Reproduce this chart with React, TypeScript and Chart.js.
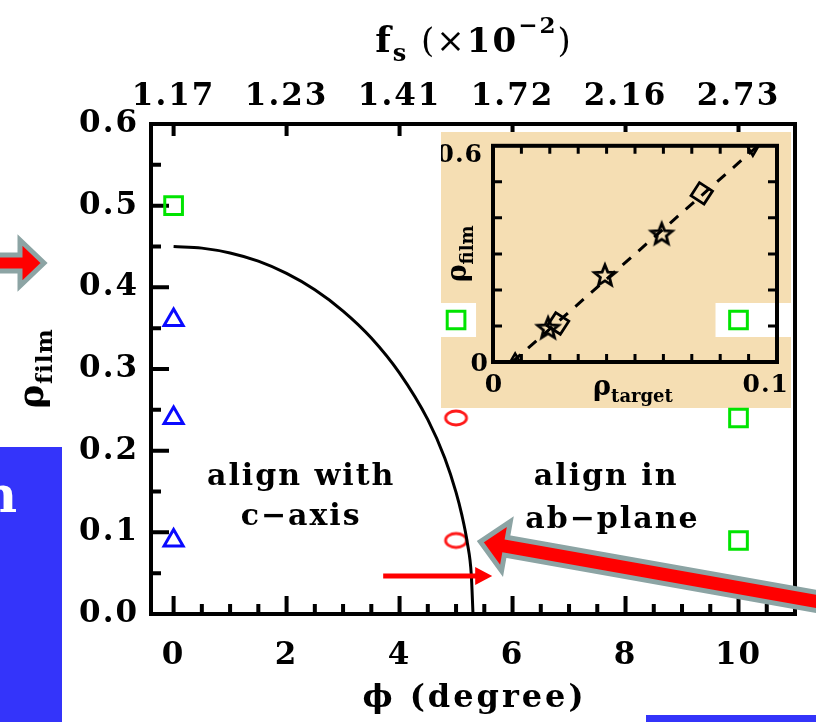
import React, { useEffect, useRef } from 'react';
import { Chart, registerables } from 'chart.js';

Chart.register(...registerables);

const SERIF = '"DejaVu Serif", serif';

// ---- main panel: film ρ against misorientation φ ----
const phiTicks = [0, 2, 4, 6, 8, 10];
const fsLabels = ['1.17', '1.23', '1.41', '1.72', '2.16', '2.73'];
const rhoTicks = [0, 0.1, 0.2, 0.3, 0.4, 0.5, 0.6];

const squarePhi = [0, 5, 10, 10, 10];
const squareRho = [0.5, 0.36, 0.36, 0.24, 0.09];
const trianglePhi = [0, 0, 0];
const triangleRho = [0.36, 0.24, 0.09];
const circlePhi = [5, 5];
const circleRho = [0.24, 0.09];

// boundary between c-axis and ab-plane alignment
const boundaryPhi = [0, 0.5, 1, 1.5, 2, 2.5, 3, 3.5, 4, 4.5, 4.8, 5, 5.1, 5.2, 5.27, 5.3];
const boundaryRho = [0.45, 0.448, 0.442, 0.432, 0.417, 0.397, 0.371, 0.338, 0.295, 0.238, 0.191, 0.149, 0.122, 0.087, 0.048, 0];

// ---- inset: film ρ against target ρ ----
const targetTickLabels = ['0', '0.1'];
const filmTickLabels = ['0', '0.6'];
const fitTarget = [0.0068, 0.0933];
const fitFilm = [0, 0.6];
const starTarget = [0.0194, 0.0394, 0.0594];
const starFilm = [0.0925, 0.239, 0.354];
const diamondTarget = [0.0229, 0.0735];
const diamondFilm = [0.107, 0.468];
const triTarget = [0.0078, 0.0915];
const triFilm = [0.004, 0.592];

const INSET = { x: 441, y: 132, w: 350, h: 276 };

const GREEN = '#00e400';
const BLUE = '#0a0aff';
const RED = '#ff1a1a';
const WHEAT = '#f5deb3';
const ARROW_RED = '#ff0000';
const ARROW_GREY = '#8ca4a4';
const BOX_BLUE = '#3434fa';

type Run = { t: string; size: number; dy?: number; weight?: string };

const pts = (xs: number[], ys: number[]) => xs.map((x, i) => ({ x, y: ys[i] }));

function runFont(r: Run) {
  return `${r.weight ?? 'bold'} ${r.size}px ${SERIF}`;
}

// draws a row of differently sized text pieces centred on cx
function drawRuns(ctx: any, runs: Run[], cx: number, baseline: number, spacing: number) {
  ctx.save();
  ctx.letterSpacing = `${spacing}px`;
  let total = 0;
  const widths = runs.map((r) => {
    ctx.font = runFont(r);
    const w = ctx.measureText(r.t).width;
    total += w;
    return w;
  });
  total -= spacing;
  let x = cx - total / 2;
  ctx.textAlign = 'left';
  ctx.textBaseline = 'alphabetic';
  ctx.fillStyle = '#000';
  runs.forEach((r, i) => {
    ctx.font = runFont(r);
    ctx.fillText(r.t, x, baseline + (r.dy ?? 0));
    x += widths[i];
  });
  ctx.restore();
}

function arrowPath(ctx: any, tail: { x: number; y: number }, tip: { x: number; y: number }, shaftHalf: number, headHalf: number, headLen: number) {
  const dx = tip.x - tail.x;
  const dy = tip.y - tail.y;
  const L = Math.hypot(dx, dy);
  const ux = dx / L;
  const uy = dy / L;
  const nx = -uy;
  const ny = ux;
  const bx = tip.x - ux * headLen;
  const by = tip.y - uy * headLen;
  ctx.beginPath();
  ctx.moveTo(tail.x + nx * shaftHalf, tail.y + ny * shaftHalf);
  ctx.lineTo(bx + nx * shaftHalf, by + ny * shaftHalf);
  ctx.lineTo(bx + nx * headHalf, by + ny * headHalf);
  ctx.lineTo(tip.x, tip.y);
  ctx.lineTo(bx - nx * headHalf, by - ny * headHalf);
  ctx.lineTo(bx - nx * shaftHalf, by - ny * shaftHalf);
  ctx.lineTo(tail.x - nx * shaftHalf, tail.y - ny * shaftHalf);
  ctx.closePath();
}

function makeStar(outer: number, inner: number, lw: number, color: string) {
  const s = Math.ceil(2 * outer + 2 * lw + 4);
  const c = document.createElement('canvas');
  c.width = s;
  c.height = s;
  const g = c.getContext('2d')!;
  g.translate(s / 2, s / 2);
  g.beginPath();
  for (let k = 0; k < 10; k++) {
    const r = k % 2 ? inner : outer;
    const a = -Math.PI / 2 + (k * Math.PI) / 5;
    g.lineTo(r * Math.cos(a), r * Math.sin(a));
  }
  g.closePath();
  g.lineWidth = lw;
  g.strokeStyle = color;
  g.stroke();
  return c;
}

function makeEllipse(rx: number, ry: number, lw: number, color: string) {
  const c = document.createElement('canvas');
  c.width = Math.ceil(2 * rx + 2 * lw + 4);
  c.height = Math.ceil(2 * ry + 2 * lw + 4);
  const g = c.getContext('2d')!;
  g.beginPath();
  g.ellipse(c.width / 2, c.height / 2, rx, ry, 0, 0, Math.PI * 2);
  g.lineWidth = lw;
  g.strokeStyle = color;
  g.stroke();
  return c;
}

const mainDecor = {
  id: 'mainDecor',
  beforeDraw(chart: any) {
    chart.ctx.letterSpacing = '2px';
  },
  beforeDatasetsDraw(chart: any) {
    const { ctx, chartArea: a, scales } = chart;
    const x = scales.x;
    const y = scales.y;
    ctx.save();
    ctx.letterSpacing = '0px';
    ctx.strokeStyle = '#000';
    ctx.lineWidth = 4;
    ctx.beginPath();
    // bottom ticks every 0.5 degree, long ones at the labelled values
    for (let k = 0; k <= 21; k++) {
      const px = x.getPixelForValue(k * 0.5);
      const len = k % 4 === 0 ? 18 : 10;
      ctx.moveTo(px, a.bottom);
      ctx.lineTo(px, a.bottom - len);
    }
    // left ticks every 0.05
    for (let k = 1; k <= 11; k++) {
      const py = y.getPixelForValue(k * 0.05);
      const len = k % 2 === 0 ? 18 : 10;
      ctx.moveTo(a.left, py);
      ctx.lineTo(a.left + len, py);
    }
    // top ticks at the f_s labels
    phiTicks.forEach((v) => {
      const px = x.getPixelForValue(v);
      ctx.moveTo(px, a.top);
      ctx.lineTo(px, a.top + 12);
    });
    ctx.stroke();

    // backdrop of the inset
    ctx.fillStyle = WHEAT;
    ctx.fillRect(INSET.x, INSET.y, INSET.w, INSET.h);
    // clearings around the squares that sit behind the inset
    const py36 = y.getPixelForValue(0.36);
    const px5 = x.getPixelForValue(5);
    const px10 = x.getPixelForValue(10);
    ctx.fillStyle = '#ffffff';
    ctx.fillRect(px5 - 16, py36 - 17, 36, 34);
    ctx.fillRect(px10 - 23, py36 - 17, INSET.x + INSET.w - (px10 - 23), 34);

    ctx.lineWidth = 4;
    ctx.strokeRect(a.left, a.top, a.right - a.left, a.bottom - a.top);
    ctx.restore();
  },
  afterDraw(chart: any) {
    const { ctx, chartArea: a, scales } = chart;
    const x = scales.x;
    const y = scales.y;
    ctx.letterSpacing = '0px';
    const cx = (a.left + a.right) / 2;

    // axis titles
    drawRuns(ctx, [
      { t: 'f', size: 36 },
      { t: 's', size: 24, dy: 9 },
      { t: ' (×', size: 34, weight: 'normal' },
      { t: '10', size: 34 },
      { t: '−2', size: 23, dy: -19 },
      { t: ')', size: 34, weight: 'normal' },
    ], cx, a.top - 72, 2);
    drawRuns(ctx, [{ t: 'ϕ (degree)', size: 32 }], cx, a.bottom + 93, 3);
    ctx.save();
    ctx.translate(a.left - 118, (a.top + a.bottom) / 2);
    ctx.rotate(-Math.PI / 2);
    drawRuns(ctx, [{ t: 'ρ', size: 36 }, { t: 'film', size: 23, dy: 9 }], 0, 10, 1);
    ctx.restore();

    // region labels
    drawRuns(ctx, [{ t: 'align with', size: 30 }], x.getPixelForValue(2.24), y.getPixelForValue(0.158), 2);
    drawRuns(ctx, [{ t: 'c−axis', size: 30 }], x.getPixelForValue(2.24), y.getPixelForValue(0.109), 2);
    drawRuns(ctx, [{ t: 'align in', size: 30 }], x.getPixelForValue(7.64), y.getPixelForValue(0.158), 2);
    drawRuns(ctx, [{ t: 'ab−plane', size: 30 }], x.getPixelForValue(7.75), y.getPixelForValue(0.105), 2);

    ctx.save();
    // thin arrow pointing at the boundary
    const ay = y.getPixelForValue(0.0465);
    const ax0 = x.getPixelForValue(3.71);
    const ax1 = x.getPixelForValue(5.64);
    ctx.strokeStyle = ARROW_RED;
    ctx.fillStyle = ARROW_RED;
    ctx.lineWidth = 5;
    ctx.beginPath();
    ctx.moveTo(ax0, ay);
    ctx.lineTo(ax1 - 14, ay);
    ctx.stroke();
    ctx.beginPath();
    ctx.moveTo(ax1, ay);
    ctx.lineTo(ax1 - 17, ay - 9);
    ctx.lineTo(ax1 - 17, ay + 9);
    ctx.closePath();
    ctx.fill();

    // broad outlined arrow from the lower right
    ctx.lineJoin = 'miter';
    arrowPath(
      ctx,
      { x: x.getPixelForValue(12), y: y.getPixelForValue(0.0077) },
      { x: x.getPixelForValue(5.43), y: y.getPixelForValue(0.0885) },
      9, 25, 26,
    );
    ctx.fillStyle = ARROW_RED;
    ctx.fill();
    ctx.strokeStyle = ARROW_GREY;
    ctx.lineWidth = 5;
    ctx.stroke();

    // arrow entering from the left edge
    arrowPath(ctx, { x: -10, y: 263 }, { x: 44, y: 263 }, 8, 23, 24);
    ctx.fillStyle = ARROW_RED;
    ctx.fill();
    ctx.strokeStyle = ARROW_GREY;
    ctx.lineWidth = 5;
    ctx.stroke();

    // blue panels at the page edges
    ctx.fillStyle = BOX_BLUE;
    ctx.fillRect(0, 447, 62, 275);
    ctx.fillRect(646, 715, 170, 7);
    ctx.fillStyle = '#ffffff';
    ctx.font = `bold 50px ${SERIF}`;
    ctx.textAlign = 'right';
    ctx.textBaseline = 'alphabetic';
    ctx.fillText('n', 17, 512);
    ctx.restore();
  },
};

const insetDecor = {
  id: 'insetDecor',
  afterDatasetsDraw(chart: any) {
    const { ctx, chartArea: a, scales } = chart;
    const x = scales.x;
    const y = scales.y;
    ctx.save();
    ctx.strokeStyle = '#000';
    ctx.lineWidth = 3;
    ctx.beginPath();
    for (let k = 1; k <= 9; k++) {
      const px = x.getPixelForValue(k * 0.01);
      ctx.moveTo(px, a.bottom);
      ctx.lineTo(px, a.bottom - 8);
      ctx.moveTo(px, a.top);
      ctx.lineTo(px, a.top + 8);
    }
    for (let k = 1; k <= 5; k++) {
      const py = y.getPixelForValue(k * 0.1);
      ctx.moveTo(a.left, py);
      ctx.lineTo(a.left + 9, py);
      ctx.moveTo(a.right, py);
      ctx.lineTo(a.right - 9, py);
    }
    ctx.stroke();
    ctx.lineWidth = 4;
    ctx.strokeRect(a.left, a.top, a.right - a.left, a.bottom - a.top);

    // tick labels
    ctx.fillStyle = '#000';
    ctx.letterSpacing = '1px';
    ctx.font = `bold 25px ${SERIF}`;
    ctx.textBaseline = 'middle';
    ctx.textAlign = 'right';
    ctx.fillText(filmTickLabels[1], a.left - 10, y.getPixelForValue(0.6) + 10);
    ctx.fillText(filmTickLabels[0], a.left - 4, y.getPixelForValue(0) + 2);
    ctx.textAlign = 'center';
    ctx.fillText(targetTickLabels[0], x.getPixelForValue(0) + 1, a.bottom + 23);
    ctx.textAlign = 'right';
    ctx.fillText(targetTickLabels[1], x.getPixelForValue(0.1) + 12, a.bottom + 23);
    ctx.letterSpacing = '0px';
    ctx.restore();

    drawRuns(ctx, [{ t: 'ρ', size: 27 }, { t: 'target', size: 18, dy: 7 }], (a.left + a.right) / 2 - 2, a.bottom + 33, 0);
    ctx.save();
    ctx.translate(a.left - 36, (a.top + a.bottom) / 2);
    ctx.rotate(-Math.PI / 2);
    drawRuns(ctx, [{ t: 'ρ', size: 27 }, { t: 'film', size: 18, dy: 7 }], 0, 9, 0);
    ctx.restore();
  },
};

export default function App() {
  const mainRef = useRef<HTMLCanvasElement>(null);
  const insetRef = useRef<HTMLCanvasElement>(null);

  useEffect(() => {
    const ellipse = makeEllipse(10.5, 7, 2.8, RED);
    const star = makeStar(11, 4.8, 2.8, '#000');
    const tickFont = { family: SERIF, size: 31, weight: 'bold' as const };

    const main = new Chart(mainRef.current!, {
      type: 'scatter',
      data: {
        datasets: [
          {
            type: 'line',
            data: pts(boundaryPhi, boundaryRho),
            borderColor: '#000',
            borderWidth: 3,
            pointRadius: 0,
            cubicInterpolationMode: 'monotone',
            fill: false,
          } as any,
          {
            data: pts(squarePhi, squareRho),
            pointStyle: 'rect',
            pointRadius: 12.5,
            borderColor: GREEN,
            borderWidth: 3,
            backgroundColor: 'rgba(0,0,0,0)',
          },
          {
            data: pts(trianglePhi, triangleRho),
            pointStyle: 'triangle',
            pointRadius: 11,
            borderColor: BLUE,
            borderWidth: 3,
            backgroundColor: 'rgba(0,0,0,0)',
          },
          {
            data: pts(circlePhi, circleRho),
            pointStyle: ellipse as any,
            pointRadius: 10,
          },
        ],
      },
      options: {
        animation: false,
        responsive: false,
        devicePixelRatio: 1,
        events: [],
        layout: { padding: { left: 0, right: 21, top: 0, bottom: 0 } },
        plugins: { legend: { display: false }, tooltip: { enabled: false } },
        scales: {
          x: {
            type: 'linear',
            position: 'bottom',
            min: -0.4,
            max: 11,
            grid: { display: false, drawTicks: false },
            border: { display: false },
            afterBuildTicks: (s: any) => {
              s.ticks = phiTicks.map((v) => ({ value: v }));
            },
            afterFit: (s: any) => {
              s.height = 108;
            },
            ticks: {
              autoSkip: false,
              maxRotation: 0,
              minRotation: 0,
              padding: 23,
              color: '#000',
              font: tickFont,
              callback: (v: any) => String(v),
            },
          },
          x2: {
            type: 'linear',
            position: 'top',
            min: -0.4,
            max: 11,
            grid: { display: false, drawTicks: false },
            border: { display: false },
            afterBuildTicks: (s: any) => {
              s.ticks = phiTicks.map((v) => ({ value: v }));
            },
            afterFit: (s: any) => {
              s.height = 124;
            },
            ticks: {
              autoSkip: false,
              maxRotation: 0,
              minRotation: 0,
              padding: 8,
              color: '#000',
              font: tickFont,
              callback: (v: any) => fsLabels[phiTicks.indexOf(Number(v))],
            },
          },
          y: {
            type: 'linear',
            min: 0,
            max: 0.6,
            grid: { display: false, drawTicks: false },
            border: { display: false },
            afterBuildTicks: (s: any) => {
              s.ticks = rhoTicks.map((v) => ({ value: v }));
            },
            afterFit: (s: any) => {
              s.width = 151;
            },
            ticks: {
              autoSkip: false,
              padding: 12,
              color: '#000',
              font: tickFont,
              callback: (v: any) => Number(v).toFixed(1),
            },
          },
        },
      },
      plugins: [mainDecor],
    });

    const inset = new Chart(insetRef.current!, {
      type: 'scatter',
      data: {
        datasets: [
          {
            type: 'line',
            data: pts(fitTarget, fitFilm),
            borderColor: '#000',
            borderWidth: 3,
            borderDash: [11, 10],
            pointRadius: 0,
            fill: false,
          } as any,
          {
            data: pts(starTarget, starFilm),
            pointStyle: star as any,
            pointRadius: 10,
          },
          {
            data: pts(diamondTarget, diamondFilm),
            pointStyle: 'rectRot',
            pointRadius: 11,
            rotation: -12,
            borderColor: '#000',
            borderWidth: 2.8,
            backgroundColor: 'rgba(0,0,0,0)',
          },
          {
            data: pts(triTarget, triFilm),
            pointStyle: 'triangle',
            pointRadius: 7,
            rotation: [0, 180] as any,
            borderColor: '#000',
            borderWidth: 2.6,
            backgroundColor: 'rgba(0,0,0,0)',
            clip: 0,
          } as any,
        ],
      },
      options: {
        animation: false,
        responsive: false,
        devicePixelRatio: 1,
        events: [],
        layout: { padding: { left: 52, right: 14, top: 3, bottom: 46 } },
        plugins: { legend: { display: false }, tooltip: { enabled: false } },
        scales: {
          x: { type: 'linear', min: 0, max: 0.1, display: false },
          y: { type: 'linear', min: 0, max: 0.6, display: false },
        },
      },
      plugins: [insetDecor],
    });

    return () => {
      main.destroy();
      inset.destroy();
    };
  }, []);

  return (
    <div style={{ position: 'absolute', left: 0, top: 0, width: 816, height: 722, background: '#ffffff', overflow: 'hidden' }}>
      <canvas ref={mainRef} width={816} height={722} style={{ position: 'absolute', left: 0, top: 0 }} />
      <canvas
        ref={insetRef}
        width={INSET.w}
        height={INSET.h}
        style={{ position: 'absolute', left: INSET.x, top: INSET.y }}
      />
    </div>
  );
}
